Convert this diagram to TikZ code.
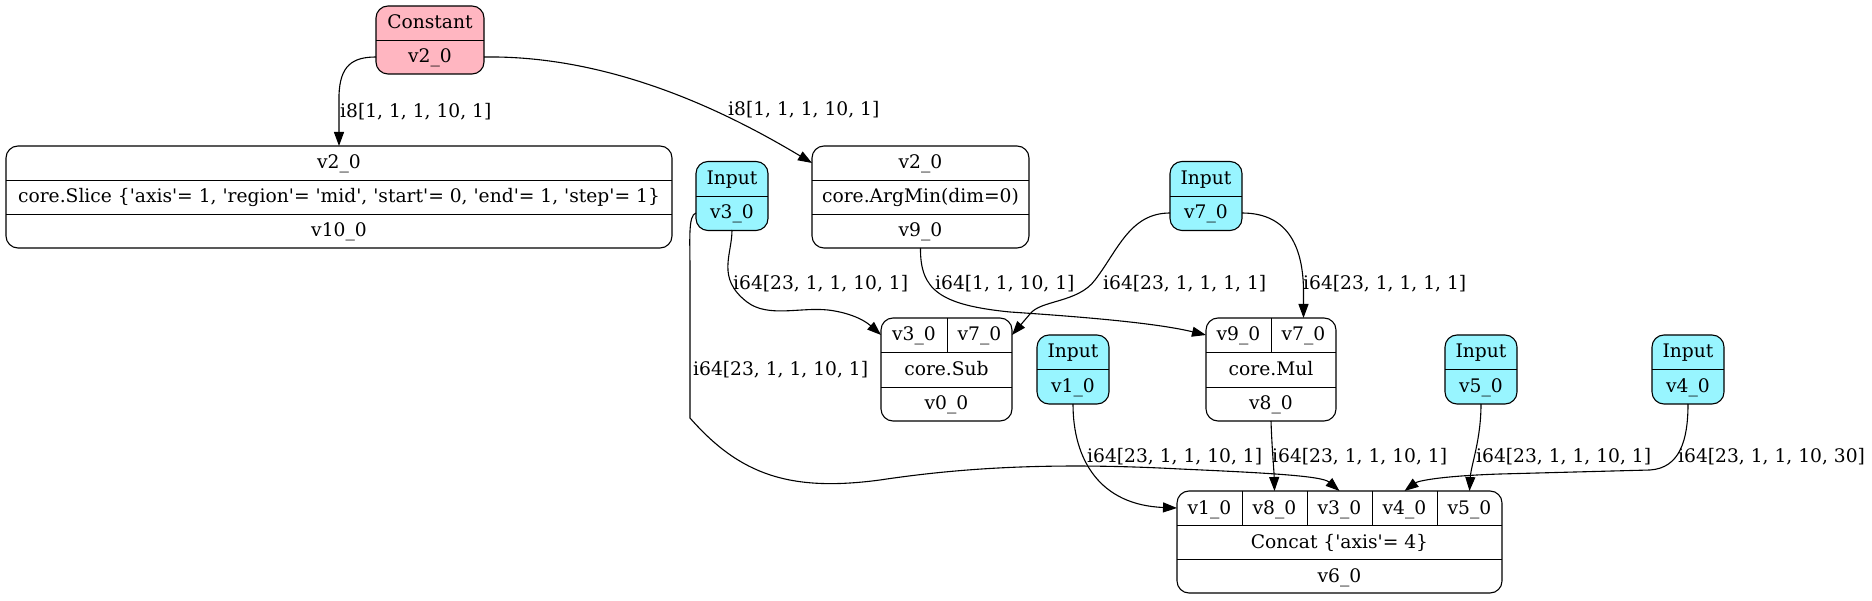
\documentclass[tikz,border=0pt]{standalone}
\usepackage{fontspec}
\setmainfont{DejaVu Serif}
\usetikzlibrary{arrows.meta}
\definecolor{cpink}{HTML}{FFB6C1}
\definecolor{ccyan}{HTML}{98F5FF}
\newcommand{\sq}{\textquotesingle}
\begin{document}
\begin{tikzpicture}[x=1pt,y=-1pt,
  font=\fontsize{18.67}{22}\selectfont,
  rec/.style={draw, rounded corners=12pt, line width=1.1pt, inner sep=0pt, outer sep=0pt},
  inrec/.style={rec, fill=ccyan, minimum width=72pt, minimum height=69pt},
  fld/.style={inner sep=0pt, outer sep=0pt, text height=12pt, text depth=0pt, minimum height=34pt},
  dv/.style={line width=0.9pt},
  lbl/.style={anchor=base west, inner sep=0pt},
  conn/.style={line width=1.1pt, -{Triangle[length=14pt,width=10pt]}}]
\useasboundingbox (0,0) rectangle (1872,601);

% Constant
\node[rec, fill=cpink, minimum width=108pt, minimum height=68pt] (const) at (430,40) {};
\draw[dv] (376,40) -- (484,40);
\node[fld, minimum width=108pt] (ct) at (430,23) {Constant};
\node[fld, minimum width=108pt] (cv) at (430,57) {v2\_0};

% Slice
\node[rec, minimum width=666pt, minimum height=102pt] (slice) at (339,197) {};
\draw[dv] (6,180) -- (672,180);
\draw[dv] (6,214) -- (672,214);
\node[fld, minimum width=666pt] (s1) at (339,163) {v2\_0};
\node[fld, minimum width=666pt] (s2) at (339,197) {core.Slice \{\sq axis\sq= 1, \sq region\sq= \sq mid\sq, \sq start\sq= 0, \sq end\sq= 1, \sq step\sq= 1\}};
\node[fld, minimum width=666pt] (s3) at (339,231) {v10\_0};

% Input v3
\node[inrec] (in3) at (732,196) {};
\draw[dv] (696,196) -- (768,196);
\node[fld, minimum width=72pt] (i3t) at (732,179) {Input};
\node[fld, minimum width=72pt] (i3v) at (732,213) {v3\_0};

% ArgMin
\node[rec, minimum width=217pt, minimum height=102pt] (argmin) at (920.5,197) {};
\draw[dv] (812,180) -- (1029,180);
\draw[dv] (812,214) -- (1029,214);
\node[fld, minimum width=217pt] (a1) at (920.5,163) {v2\_0};
\node[fld, minimum width=217pt] (a2) at (920.5,197) {core.ArgMin(dim=0)};
\node[fld, minimum width=217pt] (a3) at (920.5,231) {v9\_0};

% Input v7
\node[inrec] (in7) at (1206,196) {};
\draw[dv] (1170,196) -- (1242,196);
\node[fld, minimum width=72pt] (i7t) at (1206,179) {Input};
\node[fld, minimum width=72pt] (i7v) at (1206,213) {v7\_0};

% Sub
\node[rec, minimum width=131pt, minimum height=103pt] (sub) at (946.5,369.5) {};
\draw[dv] (881,352) -- (1012,352);
\draw[dv] (881,387) -- (1012,387);
\draw[dv] (947,318) -- (947,352);
\node[fld, minimum width=66pt] (sv3) at (914,335) {v3\_0};
\node[fld, minimum width=65pt] (sv7) at (979.5,335) {v7\_0};
\node[fld, minimum width=131pt] (sub2) at (946.5,369.5) {core.Sub};
\node[fld, minimum width=131pt] (sub3) at (946.5,404) {v0\_0};

% Input v1
\node[inrec] (in1) at (1073,369.5) {};
\draw[dv] (1037,369.5) -- (1109,369.5);
\node[fld, minimum width=72pt] (i1t) at (1073,352) {Input};
\node[fld, minimum width=72pt] (i1v) at (1073,387) {v1\_0};

% Mul
\node[rec, minimum width=130pt, minimum height=103pt] (mul) at (1271,369.5) {};
\draw[dv] (1206,352) -- (1336,352);
\draw[dv] (1206,387) -- (1336,387);
\draw[dv] (1271,318) -- (1271,352);
\node[fld, minimum width=65pt] (m9) at (1238.5,335) {v9\_0};
\node[fld, minimum width=65pt] (m7) at (1303.5,335) {v7\_0};
\node[fld, minimum width=130pt] (mul2) at (1271,369.5) {core.Mul};
\node[fld, minimum width=130pt] (mul3) at (1271,404) {v8\_0};

% Input v5
\node[inrec] (in5) at (1481,369.5) {};
\draw[dv] (1445,369.5) -- (1517,369.5);
\node[fld, minimum width=72pt] (i5t) at (1481,352) {Input};
\node[fld, minimum width=72pt] (i5v) at (1481,387) {v5\_0};

% Input v4
\node[inrec] (in4) at (1688,369.5) {};
\draw[dv] (1652,369.5) -- (1724,369.5);
\node[fld, minimum width=72pt] (i4t) at (1688,352) {Input};
\node[fld, minimum width=72pt] (i4v) at (1688,387) {v4\_0};

% Concat
\node[rec, minimum width=325pt, minimum height=102pt] (concat) at (1339.5,542) {};
\draw[dv] (1177,525) -- (1502,525);
\draw[dv] (1177,559) -- (1502,559);
\foreach \x in {1242,1307,1372,1437} \draw[dv] (\x,491) -- (\x,525);
\node[fld, minimum width=65pt] (cv1) at (1209.5,508) {v1\_0};
\node[fld, minimum width=65pt] (cv8) at (1274.5,508) {v8\_0};
\node[fld, minimum width=65pt] (cv3) at (1339.5,508) {v3\_0};
\node[fld, minimum width=65pt] (cv4) at (1404.5,508) {v4\_0};
\node[fld, minimum width=65pt] (cv5) at (1469.5,508) {v5\_0};
\node[fld, minimum width=325pt] (cc2) at (1339.5,542) {Concat \{\sq axis\sq= 4\}};
\node[fld, minimum width=325pt] (cc3) at (1339.5,576) {v6\_0};

% Edges
\draw[conn] (cv.west) .. controls (352,57) and (340,66) .. (339,95) -- (s1.north);
\draw[conn] (cv.east) .. controls (620,55) and (740,120) .. (a1.west);
\draw[conn] (i3v.south) .. controls (732,255) and (716,278) .. (747,302)
  .. controls (768,318) and (800,307) .. (828,310) .. controls (845,312) and (862,318) .. (sv3.west);
\draw[conn] (a3.south) .. controls (920,290) and (940,305) .. (1010,312)
  .. controls (1100,318) and (1160,324) .. (m9.west);
\draw[conn] (i7v.west) .. controls (1130,213) and (1118,250) .. (1095,280)
  .. controls (1078,303) and (1040,300) .. (1030,314) -- (sv7.east);
\draw[conn] (i7v.east) .. controls (1290,213) and (1303,250) .. (1303.5,290) -- (m7.north);
\draw[conn] (i3v.west) .. controls (688,215) and (690,240) .. (690,270) -- (690,418)
  .. controls (740,475) and (790,492) .. (880,480) .. controls (960,468) and (1050,462) .. (1180,469)
  .. controls (1270,473) and (1322,476) .. (cv3.north);
\draw[conn] (i1v.south) .. controls (1073,460) and (1100,505) .. (cv1.west);
\draw[conn] (mul3.south) .. controls (1272,450) and (1274,470) .. (cv8.north);
\draw[conn] (i5v.south) .. controls (1481,440) and (1471,465) .. (cv5.north);
\draw[conn] (i4v.south) .. controls (1688,440) and (1680,468) .. (1650,470) -- (1500,474)
  .. controls (1440,476) and (1418,481) .. (cv4.north);

% Labels
\node[lbl] (l1) at (340,118) {i8[1, 1, 1, 10, 1]};
\node[lbl] (l2) at (728,116) {i8[1, 1, 1, 10, 1]};
\node[lbl] (l3) at (733,290) {i64[23, 1, 1, 10, 1]};
\node[lbl] (l4) at (935,290) {i64[1, 1, 10, 1]};
\node[lbl] (l5) at (1103,290) {i64[23, 1, 1, 1, 1]};
\node[lbl] (l6) at (1303,290) {i64[23, 1, 1, 1, 1]};
\node[lbl] (l7) at (693,376) {i64[23, 1, 1, 10, 1]};
\node[lbl] (l8) at (1087,463) {i64[23, 1, 1, 10, 1]};
\node[lbl] (l9) at (1272,463) {i64[23, 1, 1, 10, 1]};
\node[lbl] (l10) at (1476,463) {i64[23, 1, 1, 10, 1]};
\node[lbl] (l11) at (1678,463) {i64[23, 1, 1, 10, 30]};
\end{tikzpicture}
\end{document}
